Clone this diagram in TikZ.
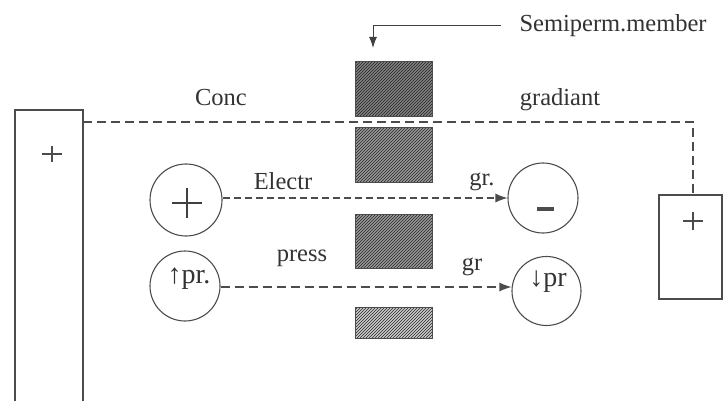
\documentclass[tikz,border=0pt]{standalone}
\usepackage{fontspec}
\setmainfont{Liberation Serif}
\usetikzlibrary{arrows.meta,patterns}
\begin{document}
\begin{tikzpicture}[x=1pt,y=-1pt,
  line width=1pt, draw=black!75,
  lbl/.style={font=\fontsize{24.5}{27}\selectfont, text=black!80, inner sep=0pt},
  big/.style={font=\fontsize{28}{30}\selectfont, text=black!80, inner sep=0pt},
  cell/.style={draw=black!70, line width=1.1pt, inner sep=0pt},
  ion/.style={circle, draw=black!70, line width=1.1pt, minimum size=70pt, inner sep=0pt},
  memb/.style={draw=black!70, fill=black!45, pattern color=black!85, inner sep=0pt, minimum width=77pt},
  flow/.style={dashed, dash pattern=on 9pt off 5pt, line width=1.1pt, draw=black!70},
  tip/.style={-{Latex[length=12pt,width=9pt]}},
  pls/.style={line width=1.1pt, draw=black!70}
]
\useasboundingbox (0,0) rectangle (726,401);
% cells
\node[cell, minimum width=68pt, minimum height=295pt] (lbox) at (49,257.5) {};
\node[cell, minimum width=63pt, minimum height=104pt] (rbox) at (690.5,247) {};
\coordinate (lplus) at (52,154);
\coordinate (rplus) at (693,221);
\draw[pls] (lplus) ++(-10,0) -- ++(20,0) (lplus) ++(0,-8) -- ++(0,16);
\draw[pls] (rplus) ++(-10,0) -- ++(20,0) (rplus) ++(0,-9) -- ++(0,18);
% membrane
\foreach \n/\y/\h/\c in {b1/89.5/55/50, b2/155.5/55/40, b3/241/54/40, b4/322.5/31/20}{
  \fill[black!\c] (393.5-38.5,\y-\h/2) rectangle (393.5+38.5,\y+\h/2);
  \node[memb, fill=none, pattern=north east lines, minimum height=\h pt] (\n) at (393.5,\y) {};
}
% semiperm label and arrow
\node[lbl, anchor=west] (sm) at (519,26) {Semiperm.member};
\coordinate (smk) at (373,26);
\coordinate (smt) at (373,48);
\draw[-{Latex[length=11pt,width=8pt]}, line width=1pt] ([xshift=-18pt]sm.west) -- (smk) -- (smt);
% concentration gradient
\coordinate (c1) at (83,122);
\coordinate (c2) at (693,122);
\draw[flow] (c1) -- (c2) -- (rbox.north -| c2);
\node[lbl] (conc) at (221,98) {Conc};
\node[lbl] (grad) at (560,100) {gradiant};
% ions
\node[ion, minimum size=72pt] (pl) at (186,200) {};
\draw[line width=1.8pt, draw=black!75] (187,203) ++(-15,0) -- ++(30,0) (187,203) ++(0,-15) -- ++(0,30);
\node[ion] (mi) at (543,198) {};
\draw[line width=4pt, draw=black!70] (537,209) -- (554,209);
\node[ion] (up) at (185,286) {};
\node[big] (uplbl) at (189,279) {{\bfseries↑}pr.};
\node[ion, minimum size=69pt] (dn) at (546.5,291) {};
\node[big] (dnlbl) at (548,282) {{\bfseries↓}pr};
% flows
\draw[flow, dash pattern=on 7pt off 4pt, tip] (pl.east |- mi.west) -- (mi.west);
\draw[flow, tip] (up.east |- 0,287) -- (dn.west |- 0,287);
\node[lbl] (el) at (283,181) {Electr};
\node[lbl] (g1) at (482,182) {gr.};
\node[lbl] (pr) at (302,258) {press};
\node[lbl] (g2) at (472,267) {gr};
\end{tikzpicture}
\end{document}
